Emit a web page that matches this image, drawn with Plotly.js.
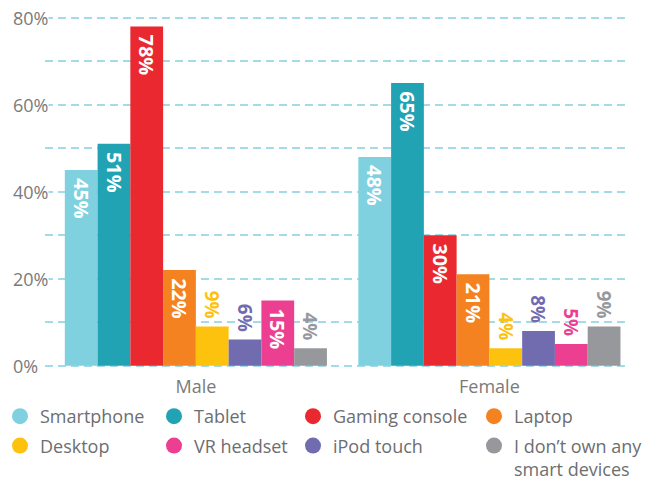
<!DOCTYPE html>
<html>
<head>
<meta charset="utf-8">
<script src="https://cdn.plot.ly/plotly-3.0.1.min.js"></script>
<style>html,body{margin:0;padding:0;background:#fff;}#chart{width:662px;height:482px;}</style>
</head>
<body>
<div id="chart"></div>
<script>
// ---- data ----
const categories = ["Male", "Female"];
const seriesNames = ["Smartphone", "Tablet", "Gaming console", "Laptop", "Desktop", "iPod touch", "VR headset", "I don’t own any<br>smart devices"];
const smartphone = [45, 48];
const tablet = [51, 65];
const gamingConsole = [78, 30];
const laptop = [22, 21];
const desktop = [9, 4];
const ipodTouch = [6, 8];
const vrHeadset = [15, 5];
const noDevice = [4, 9];
const yTicks = [0, 20, 40, 60, 80];
const yTickLabels = ["0%", "20%", "40%", "60%", "80%"];

// ---- styles ----
const seriesValues = [smartphone, tablet, gamingConsole, laptop, desktop, ipodTouch, vrHeadset, noDevice];
const colors = ["#7fd1e0", "#22a3b4", "#e9282f", "#f48221", "#fdc20e", "#716bb0", "#ec3f91", "#97989c"];
const legendCol = ["legend", "legend2", "legend3", "legend4", "legend", "legend3", "legend2", "legend4"];
const legendRank = [1, 1, 1, 1, 2, 2, 2, 2];

const FONT = "Open Sans, sans-serif";
const NBSP = "\u00a0";
const traces = [];
seriesValues.forEach((vals, i) => {
  const inside = vals.map(v => v >= 12);
  traces.push({
    type: "bar",
    name: seriesNames[i],
    x: categories,
    y: vals,
    marker: {color: colors[i]},
    showlegend: false,
    text: vals.map((v, k) => inside[k] ? NBSP + v + "%" : v + "%" + NBSP),
    texttemplate: "%{text}",
    textposition: inside.map(f => f ? "inside" : "outside"),
    insidetextanchor: "end",
    textangle: 90,
    insidetextfont: {family: FONT, size: 20, color: "#ffffff", weight: "bold"},
    outsidetextfont: {family: FONT, size: 20, color: colors[i], weight: "bold"},
    cliponaxis: false,
    hoverinfo: "skip"
  });
});
// legend-only entries (round markers), on a hidden helper axis
seriesValues.forEach((vals, i) => {
  traces.push({
    type: "scatter",
    mode: "markers",
    name: seriesNames[i],
    x: [0], y: [-100],
    xaxis: "x2", yaxis: "y2",
    marker: {color: colors[i], size: 16, symbol: "circle"},
    legend: legendCol[i],
    legendgroup: "g" + i,
    legendrank: legendRank[i],
    showlegend: true,
    hoverinfo: "skip"
  });
});

const legendBase = {
  orientation: "v",
  xref: "container", yref: "container",
  xanchor: "left", yanchor: "top",
  y: 1 - 398 / 482,
  font: {family: FONT, size: 18, color: "#6d6e71"},
  bgcolor: "rgba(0,0,0,0)",
  borderwidth: 0,
  traceorder: "grouped",
  tracegroupgap: 3,
  itemclick: false, itemdoubleclick: false,
  valign: "top"
};

const annotations = yTicks.map((t, k) => ({
  xref: "paper", yref: "y",
  x: (12 - 45) / 580, y: t,
  xanchor: "left", yanchor: "middle",
  text: yTickLabels[k],
  showarrow: false,
  bgcolor: "#ffffff",
  borderpad: 0,
  font: {family: FONT, size: 18, color: "#7a7a7a"}
}));

const layout = {
  width: 662, height: 482,
  margin: {l: 45, r: 37, t: 16, b: 115, autoexpand: false},
  paper_bgcolor: "#ffffff",
  plot_bgcolor: "#ffffff",
  barmode: "group",
  bargap: 0.107,
  bargroupgap: 0,
  font: {family: FONT, size: 18, color: "#7a7a7a"},
  xaxis: {
    type: "category",
    range: [-0.514, 1.462],
    showgrid: false,
    showline: false,
    zeroline: false,
    ticks: "",
    ticklabelstandoff: 7,
    tickfont: {family: FONT, size: 18, color: "#7a7a7a"},
    fixedrange: true
  },
  yaxis: {
    range: [-0.3, 80.4],
    dtick: 10,
    tick0: 0,
    showticklabels: false,
    showgrid: true,
    gridcolor: "#a3dbe8",
    gridwidth: 1.6,
    griddash: "8px,5px",
    zeroline: false,
    showline: false,
    ticks: "",
    fixedrange: true
  },
  xaxis2: {overlaying: "x", visible: false, range: [0, 1], fixedrange: true},
  yaxis2: {overlaying: "y", visible: false, range: [0, 1], fixedrange: true},
  legend: Object.assign({}, legendBase, {x: 0}),
  legend2: Object.assign({}, legendBase, {x: 154 / 662}),
  legend3: Object.assign({}, legendBase, {x: 293 / 662}),
  legend4: Object.assign({}, legendBase, {x: 474 / 662}),
  annotations: annotations,
  showlegend: true
};

Plotly.newPlot("chart", traces, layout, {displayModeBar: false, staticPlot: true});
</script>
</body>
</html>
